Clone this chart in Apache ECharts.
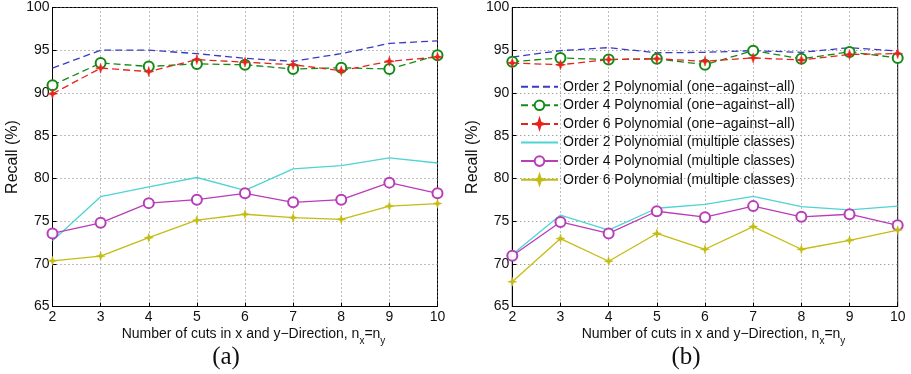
<!DOCTYPE html>
<html>
<head>
<meta charset="utf-8">
<script src="https://cdn.jsdelivr.net/npm/echarts@6/dist/echarts.min.js"></script>
<style>
  html, body { margin: 0; padding: 0; background: #fff; }
  #chart { width: 911px; height: 374px; }
</style>
</head>
<body>
<div id="chart"></div>
<script>
// Number of cuts (n_x = n_y)
const cuts = [2, 3, 4, 5, 6, 7, 8, 9, 10];
const yTicks = [65, 70, 75, 80, 85, 90, 95, 100];

const seriesNames = [
  'Order 2 Polynomial (one\u2212against\u2212all)',
  'Order 4 Polynomial (one\u2212against\u2212all)',
  'Order 6 Polynomial (one\u2212against\u2212all)',
  'Order 2 Polynomial (multiple classes)',
  'Order 4 Polynomial (multiple classes)',
  'Order 6 Polynomial (multiple classes)'
];
const xTitle = '{m|Number of cuts in x and y\u2212Direction, n}{s|x}{m|=n}{s|y}';
const panelCaptions = ['(a)', '(b)'];

// Panel (a): recall in %
const a_o2_oaa = [92.9, 95.0, 95.0, 94.6, 94.05, 93.7, 94.6, 95.8, 96.1];
const a_o4_oaa = [90.9, 93.5, 93.1, 93.4, 93.3, 92.8, 92.95, 92.8, 94.4];
const a_o6_oaa = [89.9, 92.9, 92.5, 93.9, 93.6, 93.3, 92.6, 93.7, 94.2];
const a_o2_mc  = [72.7, 77.85, 79.0, 80.1, 78.6, 81.1, 81.5, 82.4, 81.8];
const a_o4_mc  = [73.55, 74.8, 77.1, 77.5, 78.25, 77.2, 77.5, 79.5, 78.25];
const a_o6_mc  = [70.35, 70.9, 73.05, 75.1, 75.8, 75.4, 75.2, 76.75, 77.05];

// Panel (b): recall in %
const b_o2_oaa = [94.2, 94.95, 95.3, 94.7, 94.75, 94.95, 94.75, 95.3, 94.9];
const b_o4_oaa = [93.65, 94.1, 93.9, 94.0, 93.3, 94.95, 94.0, 94.8, 94.1];
const b_o6_oaa = [93.5, 93.3, 93.9, 94.0, 93.7, 94.1, 93.85, 94.5, 94.6];
const b_o2_mc  = [71.1, 75.7, 73.95, 76.5, 76.95, 77.9, 76.7, 76.3, 76.75];
const b_o4_mc  = [70.95, 74.9, 73.55, 76.15, 75.45, 76.75, 75.5, 75.8, 74.5];
const b_o6_mc  = [67.9, 72.95, 70.3, 73.55, 71.7, 74.35, 71.7, 72.75, 73.95];

const panelA = [a_o2_oaa, a_o4_oaa, a_o6_oaa, a_o2_mc, a_o4_mc, a_o6_mc];
const panelB = [b_o2_oaa, b_o4_oaa, b_o6_oaa, b_o2_mc, b_o4_mc, b_o6_mc];

const FONT = '"Liberation Sans", Arial, sans-serif';
// small filled four-point star used as the asterisk marker
const star = 'path://M5,0 L6.2,3.8 L10,5 L6.2,6.2 L5,10 L3.8,6.2 L0,5 L3.8,3.8 Z';

const styles = [
  { color: '#3a3ac6', dash: [7, 4], symbol: 'none', size: 0 },
  { color: '#138a13', dash: [7, 4], symbol: 'emptyCircle', size: 10 },
  { color: '#e8231c', dash: [7, 4], symbol: star, size: 10 },
  { color: '#4fd3d3', dash: 'solid', symbol: 'none', size: 0 },
  { color: '#b93cb9', dash: 'solid', symbol: 'emptyCircle', size: 10 },
  { color: '#c4bc12', dash: 'solid', symbol: star, size: 9 }
];

const grids = [
  { left: 52.5, top: 7.5, width: 385, height: 299 },
  { left: 512.3, top: 7.5, width: 385.4, height: 299 }
];

function makeX(i) {
  return {
    type: 'value', gridIndex: i, min: cuts[0], max: cuts[cuts.length - 1], interval: 1,
    axisLine: { lineStyle: { color: '#000', width: 1 } },
    axisTick: { show: true, inside: true, length: 4, lineStyle: { color: '#000' } },
    axisLabel: { color: '#111', fontFamily: FONT, fontSize: 14, margin: 4 },
    splitLine: { show: true, lineStyle: { color: '#7a7a7a', type: [1, 3], width: 1 } }
  };
}

function makeY(i) {
  return {
    type: 'value', gridIndex: i, min: yTicks[0], max: yTicks[yTicks.length - 1], interval: 5,
    axisLine: { lineStyle: { color: '#000', width: 1 } },
    axisTick: { show: true, inside: true, length: 4, lineStyle: { color: '#000' } },
    axisLabel: { color: '#111', fontFamily: FONT, fontSize: 14, margin: 3 },
    splitLine: { show: true, lineStyle: { color: '#7a7a7a', type: [1, 3], width: 1 } },
    name: 'Recall (%)', nameLocation: 'middle', nameGap: 32,
    nameTextStyle: { fontFamily: FONT, fontSize: 16, color: '#111' }
  };
}

const series = [];
[panelA, panelB].forEach((panel, p) => {
  panel.forEach((vals, k) => {
    const st = styles[k];
    series.push({
      type: 'line', name: seriesNames[k], xAxisIndex: p, yAxisIndex: p,
      data: cuts.map((c, j) => [c, vals[j]]),
      symbol: st.symbol, symbolSize: st.size, showSymbol: st.symbol !== 'none',
      lineStyle: { color: st.color, width: 1.3, type: st.dash },
      itemStyle: { color: st.color, borderColor: st.color, borderWidth: st.symbol === star ? 0.5 : 1.4 },
      animation: false, silent: true, z: 3
    });
  });
});

// line-only entries get no marker in the legend
const legendData = seriesNames.map((n, k) =>
  styles[k].symbol === 'none' ? { name: n, itemStyle: { opacity: 0 } } : { name: n });

// x-axis titles (with subscripts) and panel captions under each plot
const titleRich = {
  m: { font: '14px ' + FONT, fill: '#111', lineHeight: 16, verticalAlign: 'top' },
  s: { font: '10px ' + FONT, fill: '#111', lineHeight: 10, padding: [9, 0, 0, 0], verticalAlign: 'top' }
};
const graphics = [];
grids.forEach((g, i) => {
  const cx = g.left + g.width / 2;
  graphics.push({
    type: 'text', x: cx + 8.5, y: g.top + g.height + 20.5,
    style: { text: xTitle, rich: titleRich, font: '14px ' + FONT, align: 'center', verticalAlign: 'top', fill: '#111' }
  });
  graphics.push({
    type: 'text', x: cx - 19, y: 345,
    style: { text: panelCaptions[i], font: '25px "Liberation Serif", "DejaVu Serif", serif', fill: '#111', align: 'center', verticalAlign: 'top' }
  });
});

const chart = echarts.init(document.getElementById('chart'), null, { renderer: 'canvas' });
chart.setOption({
  animation: false,
  backgroundColor: '#fff',
  grid: grids.map(g => Object.assign({ show: true, borderColor: '#000', borderWidth: 1, backgroundColor: 'transparent' }, g)),
  xAxis: [makeX(0), makeX(1)],
  yAxis: [makeY(0), makeY(1)],
  legend: {
    data: legendData, orient: 'vertical', left: 520, top: 79.7, padding: 0,
    itemWidth: 37, itemHeight: 12, itemGap: 4.6,
    textStyle: { fontFamily: FONT, fontSize: 14, color: '#111', lineHeight: 14 },
    selectedMode: false
  },
  graphic: graphics,
  series: series
});
</script>
</body>
</html>
